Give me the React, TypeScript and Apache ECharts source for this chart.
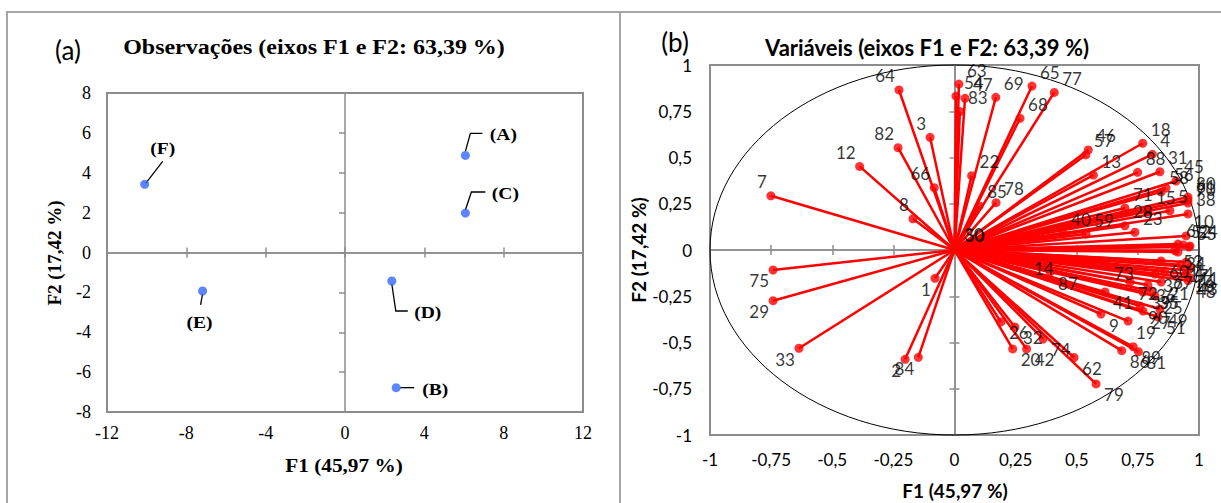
import { useEffect, useRef } from "react";
import * as echarts from "echarts";

// ---------- (a) Observations ----------
const OBS_NAMES = ["(A)", "(B)", "(C)", "(D)", "(E)", "(F)"];
const OBS_F1 = [6.07, 2.58, 6.07, 2.36, -7.18, -10.1];
const OBS_F2 = [4.87, -6.78, 1.98, -1.43, -1.93, 3.42];

// ---------- (b) Variables (correlation circle) ----------
const VAR_NAMES = [
  "7", "12", "82", "64", "3", "66", "8",
  "63", "54", "47", "83", "69", "65", "77", "68", "22", "85", "78", "30", "50",
  "46", "57", "13", "18", "4", "88", "31", "45", "56", "58", "80", "61", "70", "5", "38", "15", "71", "28", "23", "40", "59", "10", "6", "52", "24", "55", "53", "34",
  "14", "87", "73", "60", "44", "17", "11", "76", "16", "43", "48", "67", "37", "21", "72", "36", "39", "35", "25", "41", "9", "90", "49", "27", "19", "51", "26", "32", "20", "42", "74", "62", "79", "86", "89", "81",
  "75", "29", "33", "1", "2", "84",
];
const VAR_F1 = [
  -0.751, -0.388, -0.231, -0.227, -0.1, -0.083, -0.17,
  0.018, 0.006, 0.043, 0.022, 0.169, 0.317, 0.408, 0.268, 0.07, 0.101, 0.17, 0.006, 0.01,
  0.547, 0.537, 0.568, 0.77, 0.809, 0.749, 0.84, 0.906, 0.865, 0.845, 0.955, 0.955, 0.955, 0.881, 0.955, 0.791, 0.697, 0.697, 0.738, 0.444, 0.538, 0.947, 0.914, 0.935, 0.963, 0.959, 0.902, 0.914,
  0.292, 0.391, 0.62, 0.845, 0.947, 0.925, 0.967, 0.95, 0.947, 0.963, 0.955, 0.861, 0.82, 0.845, 0.718, 0.791, 0.771, 0.804, 0.82, 0.616, 0.599, 0.759, 0.84, 0.771, 0.71, 0.832, 0.19, 0.247, 0.238, 0.295, 0.362, 0.489, 0.579, 0.684, 0.731, 0.752,
  -0.742, -0.742, -0.636, -0.08, -0.202, -0.148,
];
const VAR_F2 = [
  0.293, 0.452, 0.553, 0.865, 0.609, 0.337, 0.169,
  0.897, 0.832, 0.82, 0.748, 0.825, 0.886, 0.852, 0.712, 0.402, 0.238, 0.256, 0.008, 0.004,
  0.541, 0.514, 0.405, 0.577, 0.517, 0.42, 0.423, 0.373, 0.335, 0.314, 0.286, 0.27, 0.254, 0.212, 0.195, 0.209, 0.227, 0.131, 0.096, 0.09, 0.086, 0.076, 0.032, 0.027, 0.022, 0.016, -0.004, -0.011,
  -0.038, -0.119, -0.065, -0.059, -0.065, -0.08, -0.092, -0.11, -0.13, -0.15, -0.165, -0.114, -0.13, -0.173, -0.173, -0.189, -0.227, -0.222, -0.249, -0.227, -0.346, -0.303, -0.319, -0.33, -0.384, -0.362, -0.389, -0.416, -0.535, -0.535, -0.481, -0.581, -0.724, -0.544, -0.523, -0.55,
  -0.108, -0.274, -0.531, -0.153, -0.591, -0.58,
];

// Axis ranges / ticks
const OBS_X_RANGE = [-12, 12, 4];
const OBS_Y_RANGE = [-8, 8, 2];
const VAR_RANGE = [-1, 1, 0.25];

// Texts
const TITLE_A = "Observações (eixos F1 e F2: 63,39 %)";
const TITLE_B = "Variáveis (eixos F1 e F2: 63,39 %)";
const X_NAME = "F1 (45,97 %)";
const Y_NAME = "F2 (17,42 %)";

// Leader lines for observation labels (pixel offsets from the point) - layout only
const OBS_LEADERS: { line: number[][]; text: number[] }[] = [
  { line: [[0, -4], [5, -22], [17, -22]], text: [38, -21] },
  { line: [[4, 0], [18, 0]], text: [39, 2] },
  { line: [[0, -3], [6, -21], [20, -21]], text: [40, -20] },
  { line: [[0, 3], [4, 30], [16, 30]], text: [36, 31] },
  { line: [[0, 3], [-2, 14]], text: [-3, 31] },
  { line: [[1, -1], [18, -23]], text: [18, -36] },
];

const SERIF = "'Liberation Serif', 'Times New Roman', serif";
const SANS = "Lato, 'Open Sans', sans-serif";
const GRAY = "#8c8c8c";
const RED = "#ff0000";

const comma = (v: number) => String(v).replace(".", ",");

function labelAxis(dim: "x" | "y", grid: number, r: number[], font: string, size: number, margin: number, fmt?: (v: number) => string) {
  return {
    type: "value",
    gridIndex: grid,
    min: r[0],
    max: r[1],
    interval: r[2],
    position: dim === "x" ? "bottom" : "left",
    axisLine: { show: false, onZero: false },
    axisTick: { show: false },
    splitLine: { show: false },
    axisLabel: { show: true, fontFamily: font, fontSize: size, color: "#000", margin, formatter: fmt },
  };
}

function zeroAxis(dim: "x" | "y", grid: number, r: number[], position: string, onZeroIdx: number, tickLen: number) {
  return {
    type: "value",
    gridIndex: grid,
    min: r[0],
    max: r[1],
    interval: r[2],
    position,
    axisLine: { show: true, onZero: true, onZeroAxisIndex: onZeroIdx, lineStyle: { color: GRAY, width: 1.5 } },
    axisTick: { show: tickLen > 0, length: tickLen, lineStyle: { color: GRAY, width: 1.5 } },
    axisLabel: { show: false },
    splitLine: { show: false },
  };
}

function ellipsePath(cx: number, cy: number, rx: number, ry: number) {
  const k = 0.5522847498;
  const kx = k * rx;
  const ky = k * ry;
  return (
    `M${cx - rx},${cy}` +
    `C${cx - rx},${cy - ky} ${cx - kx},${cy - ry} ${cx},${cy - ry}` +
    `C${cx + kx},${cy - ry} ${cx + rx},${cy - ky} ${cx + rx},${cy}` +
    `C${cx + rx},${cy + ky} ${cx + kx},${cy + ry} ${cx},${cy + ry}` +
    `C${cx - kx},${cy + ry} ${cx - rx},${cy + ky} ${cx - rx},${cy}Z`
  );
}

function buildOption(): any {
  const obsData = OBS_F1.map((x, i) => [x, OBS_F2[i]]);
  const varPoints = VAR_F1.map((x, i) => {
    const y = VAR_F2[i];
    const right = x >= 0;
    const up = y >= 0;
    return {
      value: [x, y],
      name: VAR_NAMES[i],
      label: { align: right ? "left" : "right", offset: [right ? 8 : -4, up ? -14 : 11] },
    };
  });

  return {
    animation: false,
    backgroundColor: "#fff",
    grid: [
      { left: 107, top: 93, width: 476, height: 319, show: true, borderColor: GRAY, borderWidth: 2, backgroundColor: "transparent", containLabel: false, outerBoundsMode: "none" },
      { left: 710, top: 65, width: 489, height: 370, show: true, borderColor: GRAY, borderWidth: 2, backgroundColor: "transparent", containLabel: false, outerBoundsMode: "none" },
    ],
    xAxis: [
      labelAxis("x", 0, OBS_X_RANGE, SERIF, 18, 12),
      zeroAxis("x", 0, OBS_X_RANGE, "bottom", 0, 5),
      zeroAxis("x", 0, OBS_X_RANGE, "top", 0, 5),
      labelAxis("x", 1, VAR_RANGE, SANS, 17, 16, comma),
      zeroAxis("x", 1, VAR_RANGE, "bottom", 2, 5),
      zeroAxis("x", 1, VAR_RANGE, "top", 2, 5),
    ],
    yAxis: [
      labelAxis("y", 0, OBS_Y_RANGE, SERIF, 18, 16),
      zeroAxis("y", 0, OBS_Y_RANGE, "left", 0, 6),
      labelAxis("y", 1, VAR_RANGE, SANS, 17, 18, comma),
      zeroAxis("y", 1, VAR_RANGE, "left", 3, 5),
      zeroAxis("y", 1, VAR_RANGE, "right", 3, 5),
    ],
    graphic: [
      { type: "rect", silent: true, shape: { x: 7, y: 12, width: 613, height: 530 }, style: { fill: "none", stroke: "#a6a6a6", lineWidth: 2 } },
      { type: "rect", silent: true, shape: { x: 620, y: 12, width: 620, height: 530 }, style: { fill: "none", stroke: "#a6a6a6", lineWidth: 2 } },
      { type: "text", x: 68, y: 50, style: { text: "(a)", font: `26px ${SANS}`, fill: "#000", align: "center", verticalAlign: "middle" } },
      { type: "text", x: 675, y: 42, style: { text: "(b)", font: `26px ${SANS}`, fill: "#000", align: "center", verticalAlign: "middle" } },
      { type: "text", x: 314, y: 47, scaleX: 1.2, style: { text: TITLE_A, font: `bold 20px ${SERIF}`, fill: "#000", align: "center", verticalAlign: "middle" } },
      { type: "text", x: 927, y: 47, style: { text: TITLE_B, font: `bold 22px ${SANS}`, fill: "#000", align: "center", verticalAlign: "middle" } },
      { type: "text", x: 54, y: 253, rotation: Math.PI / 2, style: { text: Y_NAME, font: `bold 19px ${SERIF}`, fill: "#000", align: "center", verticalAlign: "middle" } },
      { type: "text", x: 344, y: 465, scaleX: 1.12, style: { text: X_NAME, font: `bold 19px ${SERIF}`, fill: "#000", align: "center", verticalAlign: "middle" } },
      { type: "text", x: 638, y: 250, rotation: Math.PI / 2, style: { text: Y_NAME, font: `bold 19px ${SANS}`, fill: "#000", align: "center", verticalAlign: "middle" } },
      { type: "text", x: 955, y: 490, style: { text: X_NAME, font: `bold 19px ${SANS}`, fill: "#000", align: "center", verticalAlign: "middle" } },
    ],
    series: [
      // (a) leader lines + labels
      {
        type: "custom",
        xAxisIndex: 0,
        yAxisIndex: 0,
        data: obsData,
        z: 2,
        silent: true,
        renderItem: (params: any, api: any) => {
          const p = api.coord([api.value(0), api.value(1)]);
          const L = OBS_LEADERS[params.dataIndex];
          return {
            type: "group",
            children: [
              {
                type: "polyline",
                shape: { points: L.line.map(([dx, dy]) => [p[0] + dx, p[1] + dy]) },
                style: { stroke: "#000", lineWidth: 1.3, fill: null },
              },
              {
                type: "text",
                x: p[0] + L.text[0],
                y: p[1] + L.text[1],
                scaleX: 1.15,
                style: { text: OBS_NAMES[params.dataIndex], font: `bold 17px ${SERIF}`, fill: "#000", align: "center", verticalAlign: "middle" },
              },
            ],
          };
        },
      },
      {
        type: "scatter",
        xAxisIndex: 0,
        yAxisIndex: 0,
        data: obsData,
        symbolSize: 9,
        itemStyle: { color: "#3366ff" },
        z: 3,
        silent: true,
      },
      // (b) unit circle
      {
        type: "custom",
        xAxisIndex: 3,
        yAxisIndex: 2,
        data: [[0, 0]],
        z: 1,
        silent: true,
        renderItem: (_params: any, api: any) => {
          const c = api.coord([0, 0]);
          const s = api.size([1, 1]);
          return {
            type: "path",
            shape: { pathData: ellipsePath(c[0], c[1], s[0], s[1]) },
            style: { fill: "none", stroke: "#000", lineWidth: 1 },
          };
        },
      },
      // (b) vectors
      {
        type: "custom",
        xAxisIndex: 3,
        yAxisIndex: 2,
        data: varPoints.map((d) => d.value),
        z: 2,
        silent: true,
        renderItem: (_params: any, api: any) => {
          const o = api.coord([0, 0]);
          const p = api.coord([api.value(0), api.value(1)]);
          return {
            type: "line",
            shape: { x1: o[0], y1: o[1], x2: p[0], y2: p[1] },
            style: { stroke: RED, lineWidth: 2.5 },
          };
        },
      },
      {
        type: "scatter",
        xAxisIndex: 3,
        yAxisIndex: 2,
        data: varPoints,
        symbolSize: 9,
        itemStyle: { color: RED },
        z: 3,
        silent: true,
        label: {
          show: true,
          position: "inside",
          formatter: "{b}",
          color: "#000",
          fontFamily: SANS,
          fontSize: 17,
          verticalAlign: "middle",
        },
      },
    ],
  };
}

export default function App() {
  const ref = useRef<HTMLDivElement>(null);
  useEffect(() => {
    const chart = echarts.init(ref.current!, null, { renderer: "svg" });
    chart.setOption(buildOption());
    return () => chart.dispose();
  }, []);
  return (
    <div
      ref={ref}
      style={{ position: "fixed", left: 0, top: 0, width: 1221, height: 503, background: "#fff" }}
    />
  );
}
